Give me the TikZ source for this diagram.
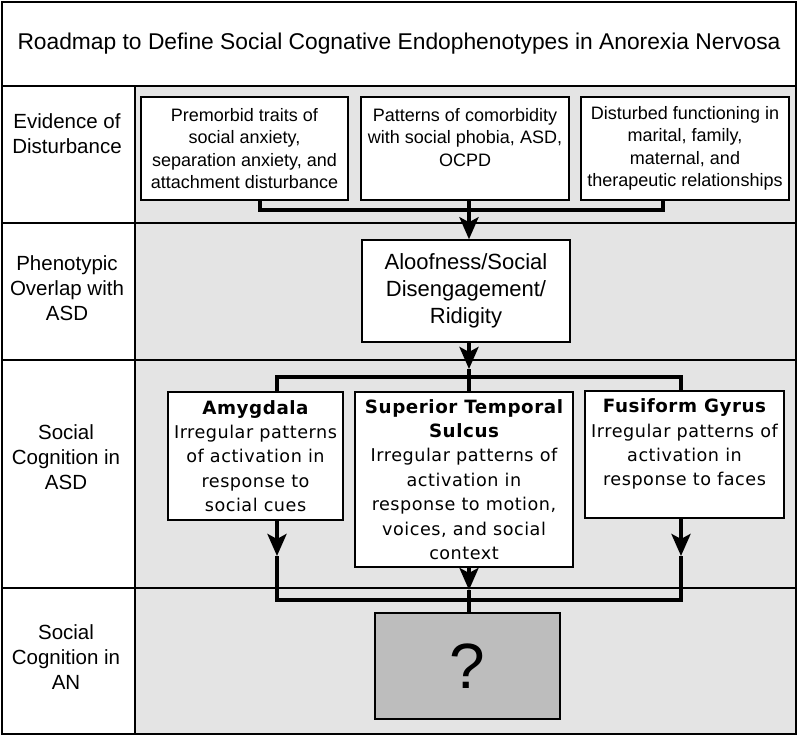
\documentclass[tikz,border=0pt]{standalone}
\usepackage{fontspec}
\setmainfont{Liberation Sans}
\newfontfamily\dvreg[LetterSpace=3]{DejaVu Sans}
\newfontfamily\dvbold[LetterSpace=3]{DejaVu Sans Bold}
\usetikzlibrary{arrows.meta}
\definecolor{cellgrey}{HTML}{E4E4E4}
\definecolor{qgrey}{HTML}{BDBDBD}
\tikzset{
  cellbox/.style={draw=black, line width=1.6pt, inner sep=0pt},
  whitecell/.style={cellbox, fill=white},
  greycell/.style={cellbox, fill=cellgrey},
  lbl/.style={align=center, inner sep=0pt, font=\fontsize{20.5}{24.7}\selectfont},
  topbox/.style={draw=black, fill=white, line width=1.5pt, inner sep=0pt, align=center,
    font=\fontsize{18}{22.4}\selectfont},
  brainbox/.style={draw=black, fill=white, line width=1.5pt, inner sep=0pt, align=center,
    font=\dvreg\fontsize{17.6}{24.4}\selectfont},
  conn/.style={line width=4pt, line join=miter},
  arr/.style={conn, -{Stealth[length=22pt, width=19pt, inset=5pt]}},
}
\newcommand{\bt}[1]{{\dvbold\fontsize{18.3}{24.4}\selectfont #1}}
\begin{document}
\begin{tikzpicture}[x=1pt, y=-1pt]
\useasboundingbox (0,0) rectangle (800,737);
% title
\node[whitecell, line width=2pt, minimum width=794pt, minimum height=84pt,
  font=\fontsize{22.8}{26}\selectfont] (title) at (399,44)
  {Roadmap to Define Social Cognative Endophenotypes in Anorexia Nervosa};
% row cells
\node[whitecell, minimum width=133pt, minimum height=137pt] (l1) at (68.5,154.5) {};
\node[greycell, minimum width=661pt, minimum height=137pt] (g1) at (465.5,154.5) {};
\node[whitecell, minimum width=133pt, minimum height=137pt] (l2) at (68.5,291.5) {};
\node[greycell, minimum width=661pt, minimum height=137pt] (g2) at (465.5,291.5) {};
\node[whitecell, minimum width=133pt, minimum height=228pt] (l3) at (68.5,474) {};
\node[greycell, minimum width=661pt, minimum height=228pt] (g3) at (465.5,474) {};
\node[whitecell, minimum width=133pt, minimum height=146pt] (l4) at (68.5,661) {};
\node[greycell, minimum width=661pt, minimum height=146pt] (g4) at (465.5,661) {};
% row labels
\node[lbl] (t1) at (67,134) {Evidence of\\Disturbance};
\node[lbl] (t2) at (67,288) {Phenotypic\\Overlap with\\ASD};
\node[lbl] (t3) at (66,457) {Social\\Cognition in\\ASD};
\node[lbl] (t4) at (66,657) {Social\\Cognition in\\AN};
% row 1 boxes
\node[topbox, minimum width=207pt, minimum height=103pt] (b1) at (244.5,148.5)
  {Premorbid traits of\\social anxiety,\\separation anxiety, and\\attachment disturbance};
\node[topbox, minimum width=208pt, minimum height=103pt] (b2) at (465,148.5)
  {Patterns of comorbidity\\with social phobia, ASD,\\OCPD\\\mbox{}};
\node[topbox, minimum width=208pt, minimum height=103pt] (b3) at (685,148.5)
  {Disturbed functioning in\\marital, family,\\maternal, and\\therapeutic relationships};
% row 2
\node[topbox, minimum width=208pt, minimum height=102pt,
  font=\fontsize{22}{27}\selectfont] (aloof) at (466,291)
  {Aloofness/Social\\Disengagement/\\Ridigity};
% row 3
\node[brainbox, minimum width=175pt, minimum height=128pt] (amy) at (255.5,456)
  {\bt{Amygdala}\\Irregular patterns\\of activation in\\response to\\social cues};
\node[brainbox, minimum width=218pt, minimum height=175pt] (sts) at (464,479.5)
  {\bt{Superior Temporal}\\\bt{Sulcus}\\Irregular patterns of\\activation in\\response to motion,\\voices, and social\\context};
\node[brainbox, minimum width=199pt, minimum height=127pt] (fus) at (684.5,454.5)
  {\bt{Fusiform Gyrus}\\Irregular patterns of\\activation in\\response to faces\\\mbox{}};
% row 4
\node[draw=black, fill=qgrey, line width=1.5pt, minimum width=185pt, minimum height=106pt,
  inner sep=0pt, font=\fontsize{64}{66}\selectfont] (q) at (467.5,666) {?};
% junction coordinates
\coordinate (cx) at (469,0);
\coordinate (k1) at (260,210);
\coordinate (k3) at (663,210);
\coordinate (tip2) at (469,369);
\coordinate (h1) at (277,377);
\coordinate (h2) at (681,377);
\coordinate (a1) at (277,556);
\coordinate (a2) at (681,556);
\coordinate (a3) at (469,590);
\coordinate (m1) at (277,600);
\coordinate (m2) at (681,600);
% connectors
\draw[conn] (b1.south -| k1) -- (k1) -- (k3) -- (b3.south -| k3);
\draw[arr] (b2.south -| cx) -- (aloof.north -| cx);
\draw[arr] (aloof.south -| cx) -- (tip2);
\draw[conn] (tip2) -- (sts.north -| cx);
\draw[conn] (amy.north -| h1) -- (h1) -- (h2) -- (fus.north -| h2);
\draw[arr] (amy.south -| a1) -- (a1);
\draw[arr] (fus.south -| a2) -- (a2);
\draw[arr] (sts.south -| a3) -- (a3);
\draw[conn] (a1) -- (m1) -- (m2) -- (a2);
\draw[conn] (a3) -- (q.north -| cx);
\end{tikzpicture}
\end{document}
